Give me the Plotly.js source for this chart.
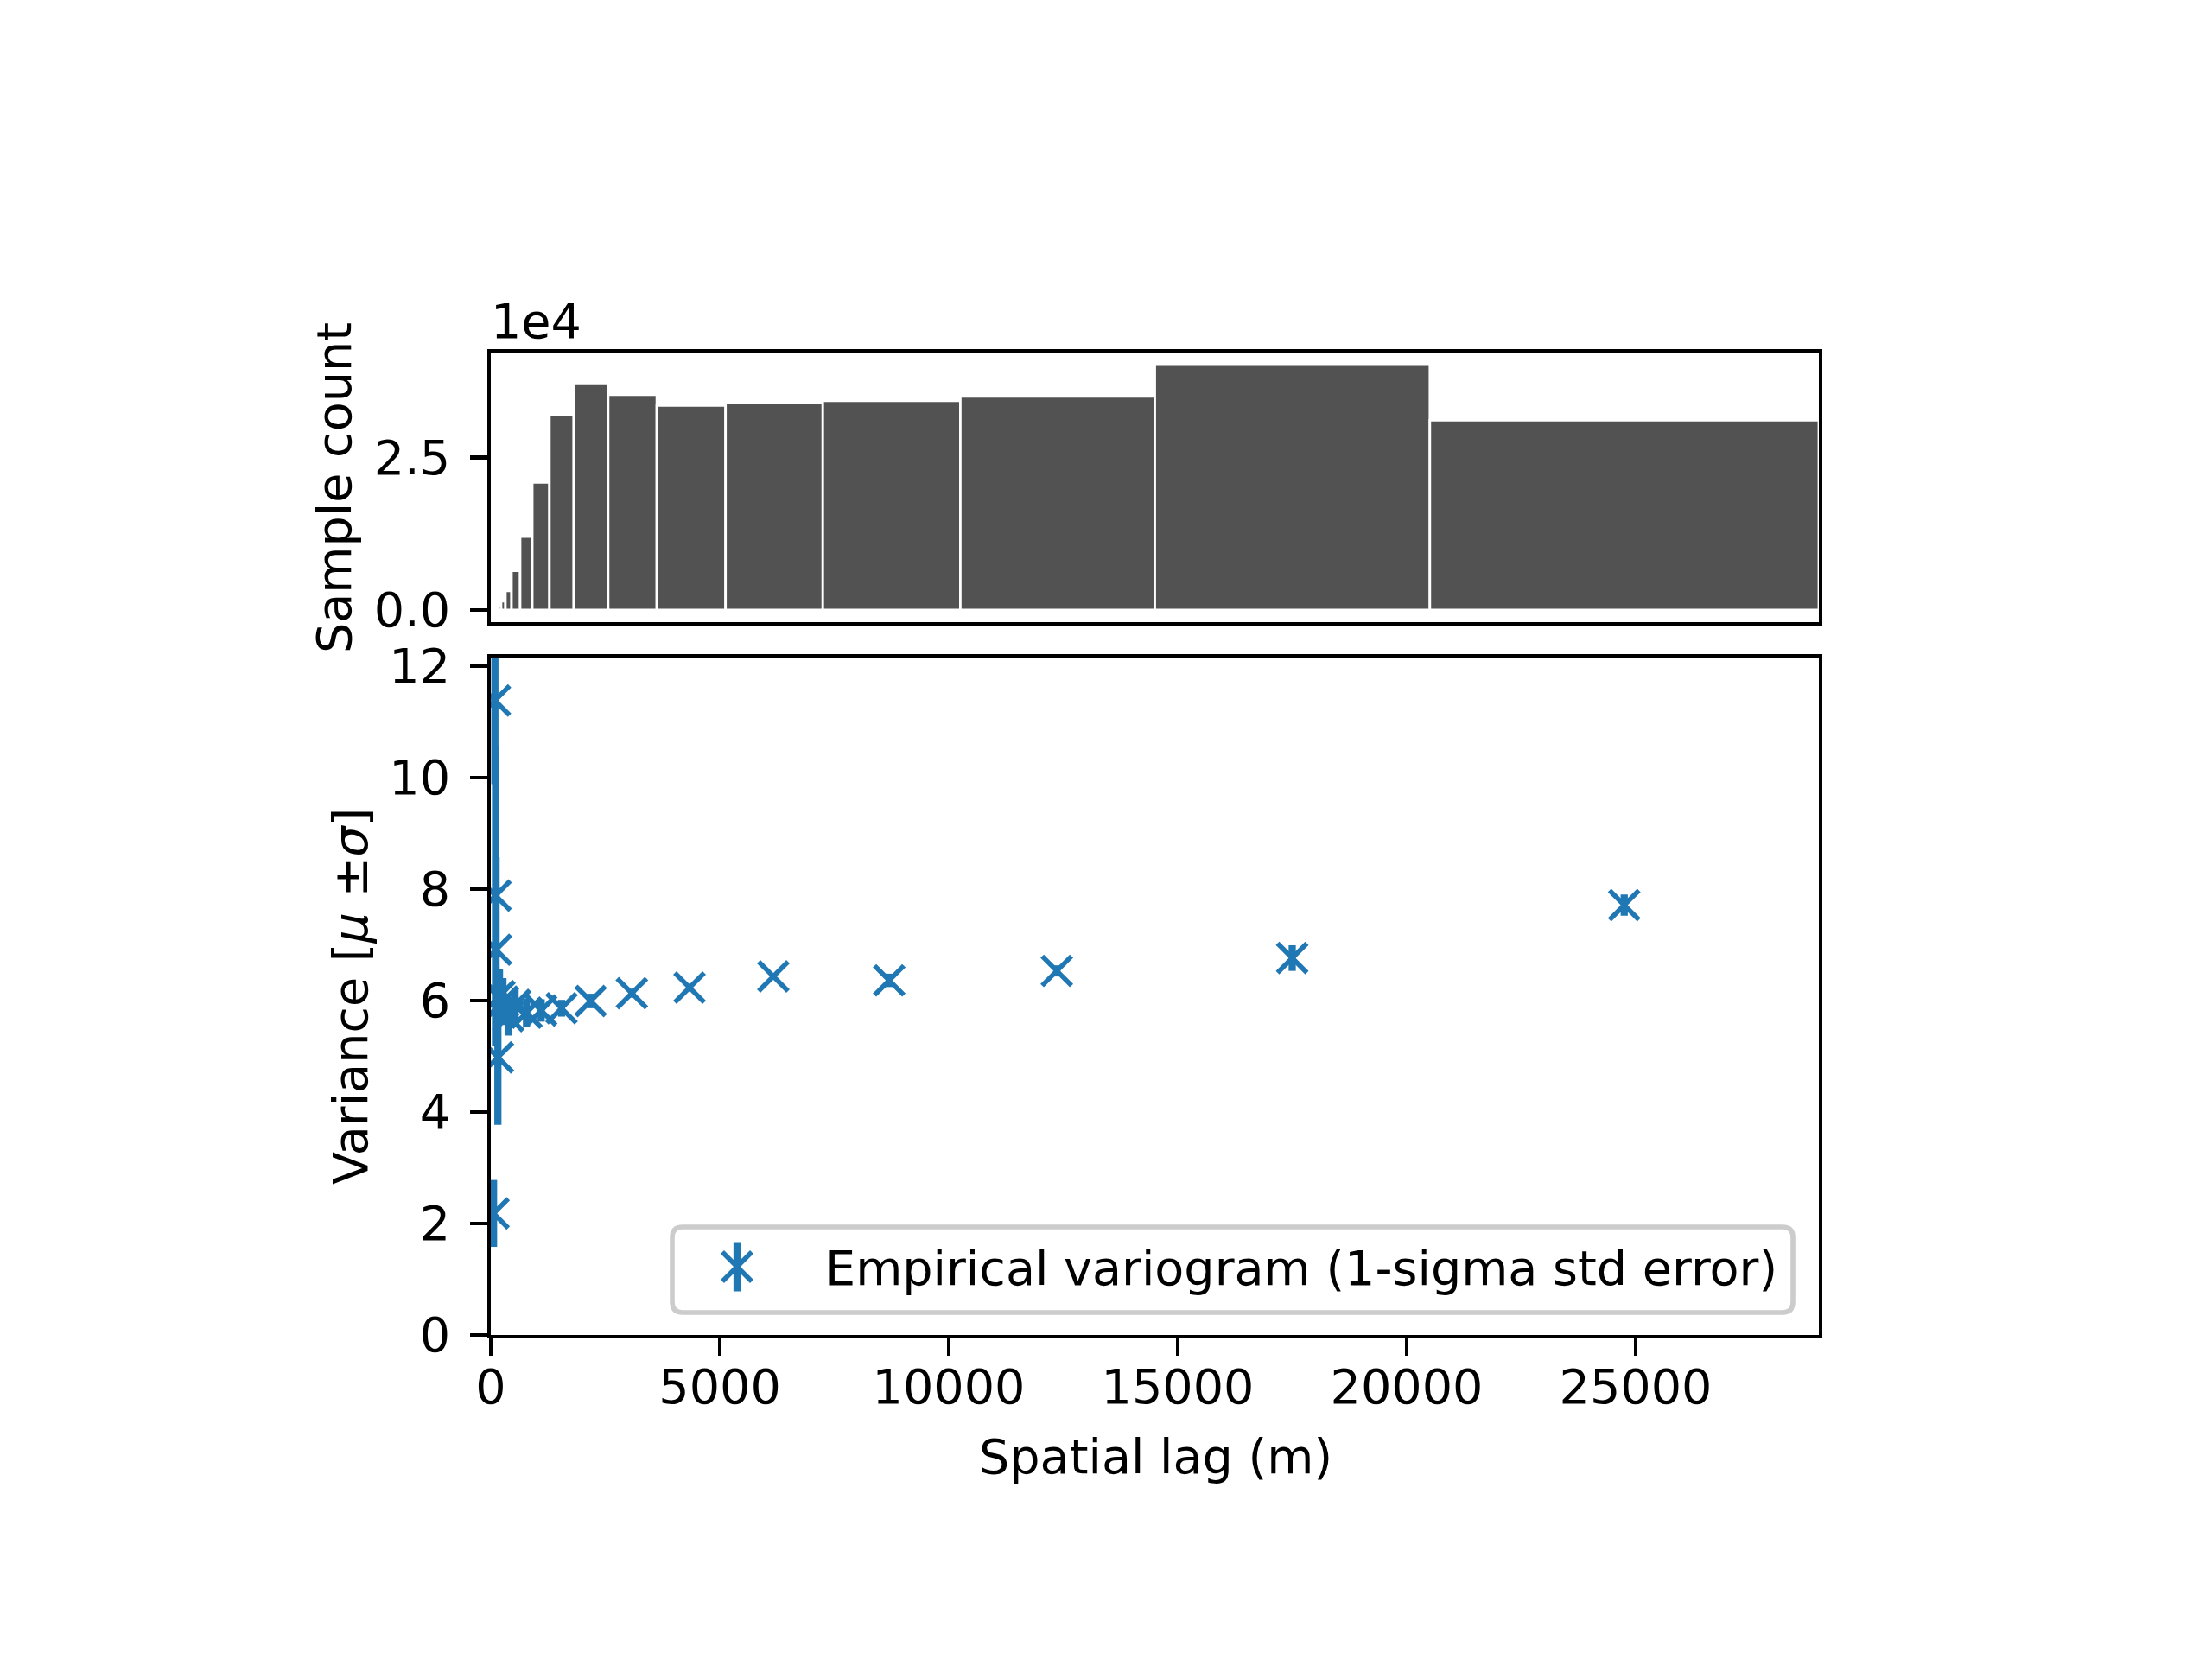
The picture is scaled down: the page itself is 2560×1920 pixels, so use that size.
<!DOCTYPE html>
<html>
<head>
<meta charset="utf-8">
<script src="https://cdn.plot.ly/plotly-3.0.1.min.js"></script>
<style>
  html, body { margin: 0; padding: 0; background: #ffffff; }
  #plot { width: 2560px; height: 1920px; }
</style>
</head>
<body>
<div id="plot"></div>
<script>
// Lag-class edges (m) and number of point pairs in each class
const lagEdges = [160, 226, 320, 453, 641, 906, 1281, 1812, 2563, 3625, 5126, 7250, 10253, 14500, 20506, 29000];
const pairCounts = [600, 1400, 3100, 6400, 12000, 20900, 32000, 37200, 35300, 33500, 33900, 34300, 35000, 40200, 31100];

// Empirical variogram: mean lag (m), semivariance and 1-sigma standard error
const lagMeans = [60, 90, 104, 115, 155, 190, 265, 380, 530, 780, 1100, 1545, 2180, 3080, 4340, 6170, 8700, 12360, 17500, 24750];
const variance = [2.18, 11.38, 7.88, 6.91, 4.98, 6.08, 5.98, 5.72, 5.92, 5.78, 5.82, 5.86, 5.99, 6.13, 6.23, 6.43, 6.36, 6.53, 6.76, 7.71];
const stdError = [0.6, 1.5, 2.69, 1.66, 1.21, 0.48, 0.42, 0.35, 0.3, 0.25, 0.2, 0.15, 0.13, 0.08, 0.07, 0.05, 0.12, 0.1, 0.23, 0.19];

// Axis ticks
const lagTicks = [0, 5000, 10000, 15000, 20000, 25000];
const lagTickText = ['0', '5000', '10000', '15000', '20000', '25000'];
const varTicks = [0, 2, 4, 6, 8, 10, 12];
const countTickVals = [0, 25000];
const countTickText = ['0.0', '2.5'];

const legendLabel = 'Empirical variogram (1-sigma std error)';

// derived bar geometry
const binCenters = pairCounts.map((_, i) => (lagEdges[i] + lagEdges[i + 1]) / 2);
const binWidths = pairCounts.map((_, i) => lagEdges[i + 1] - lagEdges[i]);

const W = 2560, H = 1920;
const px = v => v / W;          // horizontal pixel -> paper
const py = v => 1 - v / H;      // vertical pixel -> paper

const FONT = 'DejaVu Sans';
const FS = 55.6;
const BLUE = '#1f77b4';
const LW = 4.4;   // spine / tick width
const TL = 19.4;  // tick length
const MSIZE = 34; // x-marker size

const plotLeft = 568, plotRight = 2105;

const commonAxis = {
  showline: true, mirror: true, linecolor: '#000000', linewidth: LW,
  showgrid: false, zeroline: false,
  tickfont: {family: FONT, size: FS, color: '#000000'},
  tickcolor: '#000000', tickwidth: LW, ticklen: TL
};

const traces = [
  {
    type: 'bar',
    x: binCenters, y: pairCounts, width: binWidths,
    xaxis: 'x2', yaxis: 'y2',
    marker: {color: '#525252', line: {color: '#ffffff', width: 2.8}},
    hoverinfo: 'skip'
  },
  {
    type: 'scatter', mode: 'markers',
    x: lagMeans, y: variance,
    xaxis: 'x', yaxis: 'y',
    cliponaxis: true,
    marker: {symbol: 'x-thin', size: MSIZE, color: BLUE, line: {color: BLUE, width: 5.6}},
    error_y: {type: 'data', array: stdError, visible: true, color: BLUE, thickness: 8.3, width: 0}
  },
  // legend glyph: a marker with its error bar
  {
    type: 'scatter', mode: 'markers',
    x: [0], y: [0],
    xaxis: 'x3', yaxis: 'y3',
    cliponaxis: false,
    marker: {symbol: 'x-thin', size: MSIZE, color: BLUE, line: {color: BLUE, width: 5.6}},
    error_y: {type: 'data', array: [28.5], visible: true, color: BLUE, thickness: 8.3, width: 0},
    hoverinfo: 'skip'
  }
];

// legend frame with rounded corners
const lb = {x0: 778, x1: 2075, y0: 1420, y1: 1519, r: 12};
const rx = lb.r / W, ry = lb.r / H;
const X0 = px(lb.x0), X1 = px(lb.x1), Y0 = py(lb.y1), Y1 = py(lb.y0);
const legendPath =
  `M ${X0 + rx},${Y0} L ${X1 - rx},${Y0} Q ${X1},${Y0} ${X1},${Y0 + ry} ` +
  `L ${X1},${Y1 - ry} Q ${X1},${Y1} ${X1 - rx},${Y1} ` +
  `L ${X0 + rx},${Y1} Q ${X0},${Y1} ${X0},${Y1 - ry} ` +
  `L ${X0},${Y0 + ry} Q ${X0},${Y0} ${X0 + rx},${Y0} Z`;

const layout = {
  width: W, height: H,
  margin: {l: 0, r: 0, t: 0, b: 0},
  paper_bgcolor: '#ffffff',
  plot_bgcolor: 'rgba(0,0,0,0)',
  showlegend: false,
  font: {family: FONT, size: FS, color: '#000000'},
  xaxis: Object.assign({}, commonAxis, {
    domain: [px(plotLeft), px(plotRight)], anchor: 'y',
    range: [0, 29000], ticks: 'outside', tickmode: 'array',
    tickvals: lagTicks, ticktext: lagTickText,
    ticklabelstandoff: -12
  }),
  yaxis: Object.assign({}, commonAxis, {
    domain: [py(1545), py(761)], anchor: 'x',
    range: [0, 12.15], ticks: 'outside', tickmode: 'array', tickvals: varTicks,
    ticklabelstandoff: 12
  }),
  xaxis2: Object.assign({}, commonAxis, {
    domain: [px(plotLeft), px(plotRight)], anchor: 'y2', matches: 'x',
    ticks: '', showticklabels: false
  }),
  yaxis2: Object.assign({}, commonAxis, {
    domain: [py(720), py(408)], anchor: 'x2',
    range: [-2010, 42210], ticks: 'outside', tickmode: 'array',
    tickvals: countTickVals, ticktext: countTickText,
    ticklabelstandoff: 12
  }),
  xaxis3: {domain: [px(833), px(873)], anchor: 'y3', range: [-1, 1], visible: false, fixedrange: true},
  yaxis3: {domain: [py(1496), py(1436)], anchor: 'x3', range: [-30, 30], visible: false, fixedrange: true},
  shapes: [
    {type: 'path', xref: 'paper', yref: 'paper', path: legendPath, layer: 'below',
     fillcolor: 'rgba(255,255,255,0.8)', line: {color: '#cccccc', width: 5.6}}
  ],
  annotations: [
    {text: '1e4', xref: 'paper', yref: 'paper', x: px(566), y: py(372),
     xanchor: 'left', yanchor: 'middle', showarrow: false, font: {family: FONT, size: FS}},
    {text: 'Sample count', xref: 'paper', yref: 'paper', x: px(387), y: py(565),
     xanchor: 'center', yanchor: 'middle', textangle: -90, showarrow: false, font: {family: FONT, size: FS}},
    {text: 'Variance [<i>μ</i> ±<i>σ</i>]', xref: 'paper', yref: 'paper', x: px(405), y: py(1153),
     xanchor: 'center', yanchor: 'middle', textangle: -90, showarrow: false, font: {family: FONT, size: FS}},
    {text: 'Spatial lag (m)', xref: 'paper', yref: 'paper', x: px(1337), y: py(1685),
     xanchor: 'center', yanchor: 'middle', showarrow: false, font: {family: FONT, size: FS}},
    {text: legendLabel, xref: 'paper', yref: 'paper', x: px(953), y: py(1467),
     xanchor: 'left', yanchor: 'middle', showarrow: false, font: {family: FONT, size: FS}}
  ]
};

Plotly.newPlot('plot', traces, layout, {staticPlot: true, displayModeBar: false});
</script>
</body>
</html>
